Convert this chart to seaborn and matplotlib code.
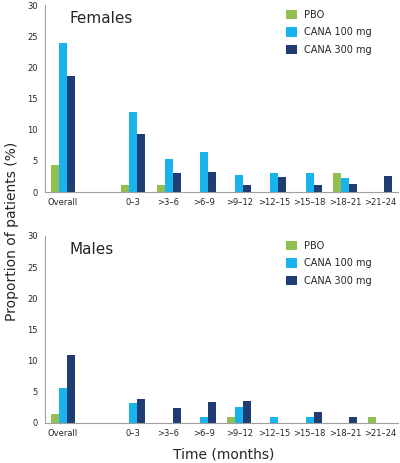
import matplotlib
matplotlib.use("Agg")
import matplotlib.pyplot as plt
import numpy as np
import pandas as pd
import seaborn as sns

# --- Data ---
periods = ["Overall", " ", "0\u20133", ">3\u20136", ">6\u20139", ">9\u201312",
           ">12\u201315", ">15\u201318", ">18\u201321", ">21\u201324"]
groups = ["PBO", "CANA 100 mg", "CANA 300 mg"]

females_pbo = [4.3, 0, 1.1, 1.1, 0, 0, 0, 0, 3.0, 0]
females_c100 = [23.9, 0, 12.8, 5.3, 6.5, 2.8, 3.0, 3.1, 2.2, 0]
females_c300 = [18.7, 0, 9.3, 3.1, 3.3, 1.1, 2.4, 1.2, 1.3, 2.6]

males_pbo = [1.4, 0, 0, 0, 0, 0.9, 0, 0, 0, 1.0]
males_c100 = [5.6, 0, 3.2, 0, 0.9, 2.6, 0.9, 0.9, 0, 0]
males_c300 = [10.9, 0, 3.9, 2.4, 3.4, 3.5, 0, 1.8, 0.9, 0]

colors = ["#92C050", "#19B3EE", "#1F3D73"]


def long_df(pbo, c100, c300):
    rows = []
    for g, vals in zip(groups, [pbo, c100, c300]):
        for p, v in zip(periods, vals):
            rows.append({"Period": p, "Group": g, "Value": v})
    return pd.DataFrame(rows)


sns.set_style("white")
plt.rcParams["font.family"] = ["DejaVu Sans"]

fig = plt.figure(figsize=(4.0, 4.63), dpi=100)
ax_top = fig.add_axes([0.1125, 0.585, 0.8825, 0.404])
ax_bot = fig.add_axes([0.1125, 0.0864, 0.8825, 0.404])

panels = [
    (ax_top, "Females", long_df(females_pbo, females_c100, females_c300)),
    (ax_bot, "Males", long_df(males_pbo, males_c100, males_c300)),
]

for ax, title, df in panels:
    sns.barplot(data=df, x="Period", y="Value", hue="Group", order=periods,
                hue_order=groups, palette=colors, width=0.68, ax=ax,
                linewidth=0, saturation=1)
    ax.set_ylim(0, 30)
    ax.set_xlim(-0.5, len(periods) - 0.5)
    ax.set_yticks(range(0, 31, 5))
    ax.set_xlabel("")
    ax.set_ylabel("")
    ax.tick_params(axis="y", labelsize=6, length=2, width=0.6, color="#A0A0A0", pad=3)
    ax.tick_params(axis="x", which="major", labelsize=6, length=0, pad=4)
    ax.set_xticks(np.arange(-0.5, len(periods), 1), minor=True)
    ax.tick_params(axis="x", which="minor", length=3, width=0.6, color="#A0A0A0")
    for s in ["top", "right"]:
        ax.spines[s].set_visible(False)
    for s in ["left", "bottom"]:
        ax.spines[s].set_color("#A0A0A0")
        ax.spines[s].set_linewidth(0.8)
    ax.text(0.07, 0.93, title, transform=ax.transAxes, fontsize=11,
            ha="left", va="center")
    ax.legend(loc="upper right", bbox_to_anchor=(0.95, 1.02), frameon=False,
              fontsize=7, handlelength=1.1, handleheight=1.1,
              labelspacing=0.75, handletextpad=0.7)

fig.text(0.03, 0.5, "Proportion of patients (%)", rotation=90,
         ha="center", va="center", fontsize=10)
fig.text(0.56, 0.018, "Time (months)", ha="center", va="center", fontsize=10)

fig.savefig("out.png", dpi=100)
